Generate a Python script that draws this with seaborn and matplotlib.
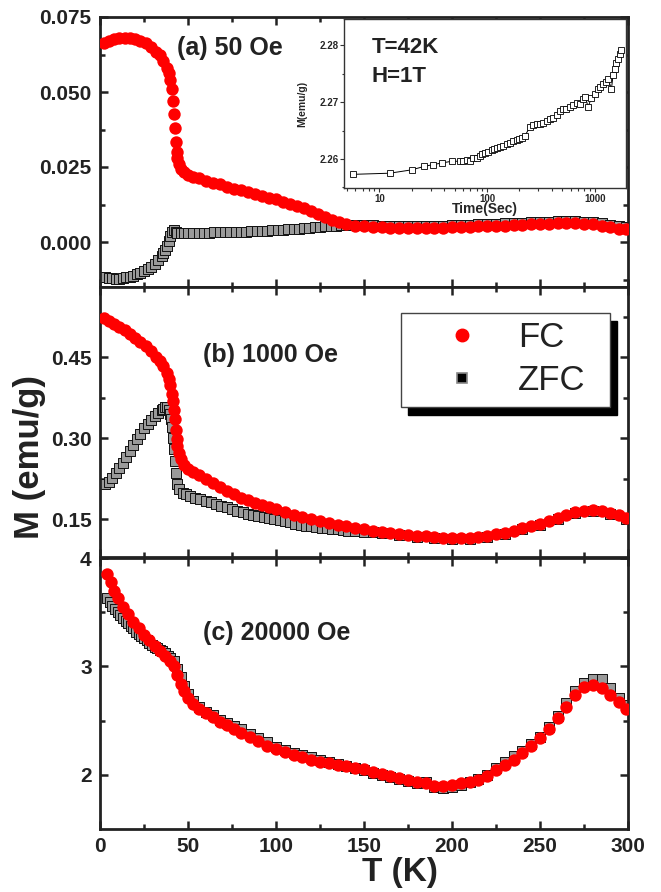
import matplotlib
matplotlib.use("Agg")
import matplotlib.pyplot as plt
import seaborn as sns
import pandas as pd
from matplotlib.patches import Rectangle
from matplotlib.lines import Line2D
from matplotlib.ticker import MultipleLocator, FixedLocator, FormatStrFormatter, LogLocator, NullFormatter

# ---------------- data ----------------
# panel (a) 50 Oe
T_fc_a = [2, 5, 8, 11, 14, 17, 20, 23, 26, 29, 32, 34, 36, 38, 39, 40, 41, 41.5, 42, 42.5, 43, 43.5, 44, 45, 46, 48, 50,
          53, 56, 60, 64, 68, 72, 76, 80, 84, 88, 92, 96, 100, 104, 108, 112, 116, 120, 124, 128, 132, 136, 140, 145,
          150, 155, 160, 165, 170, 175, 180, 185, 190, 195, 200, 205, 210, 215, 220, 225, 230, 235, 240, 245, 250, 255,
          260, 265, 270, 275, 280, 285, 290, 295, 299]
M_fc_a = [0.0665, 0.0670, 0.0676, 0.0680, 0.0681, 0.0680, 0.0677, 0.0671, 0.0662, 0.0650, 0.0635, 0.0622, 0.0604,
          0.0580, 0.0562, 0.0540, 0.0510, 0.0470, 0.0425, 0.0380, 0.0335, 0.0300, 0.0280, 0.0260, 0.0245, 0.0232,
          0.0225, 0.0218, 0.0212, 0.0205, 0.0198, 0.0192, 0.0185, 0.0178, 0.0172, 0.0166, 0.0160, 0.0154, 0.0148,
          0.0142, 0.0135, 0.0128, 0.0120, 0.0112, 0.0103, 0.0094, 0.0084, 0.0075, 0.0067, 0.0060, 0.0055, 0.0052,
          0.0050, 0.0049, 0.0048, 0.0048, 0.0048, 0.0047, 0.0047, 0.0048, 0.0048, 0.0049, 0.0050, 0.0051, 0.0052,
          0.0053, 0.0054, 0.0055, 0.0056, 0.0058, 0.0059, 0.0060, 0.0061, 0.0062, 0.0062, 0.0062, 0.0061, 0.0059,
          0.0055, 0.0050, 0.0045, 0.0042]
T_zfc_a = [3, 5, 7, 9, 11, 13, 15, 17, 19, 21,
           23, 25, 27, 29, 31, 33, 35, 36, 37, 38,
           39, 40, 41, 42, 43, 44, 46, 48, 50, 53,
           56, 59, 62, 65, 68, 71, 74, 77, 80, 83,
           86, 89, 92, 95, 98, 101, 104, 107, 110, 113,
           116, 119, 122, 125, 128, 131, 134, 137, 140, 145,
           150, 155, 160, 165, 170, 175, 180, 185, 190, 195,
           200, 205, 210, 215, 220, 225, 230, 235, 240, 245,
           250, 255, 260, 265, 270, 275, 280, 285, 290, 295,
           299]
M_zfc_a = [-0.0115, -0.0119, -0.0121, -0.0122, -0.0122, -0.0120, -0.0118, -0.0115, -0.0112, -0.0108,
           -0.0104, -0.0098, -0.0091, -0.0083, -0.0073, -0.0060, -0.0045, -0.0036, -0.0025, -0.0012,
           0.0003, 0.0020, 0.0033, 0.0040, 0.0035, 0.0031, 0.0030, 0.0030, 0.0030, 0.0030,
           0.0031, 0.0031, 0.0031, 0.0032, 0.0032, 0.0033, 0.0033, 0.0034, 0.0035, 0.0035,
           0.0036, 0.0037, 0.0037, 0.0038, 0.0039, 0.0040, 0.0041, 0.0042, 0.0044, 0.0045,
           0.0046, 0.0047, 0.0049, 0.0050, 0.0052, 0.0053, 0.0055, 0.0056, 0.0057, 0.0057,
           0.0057, 0.0056, 0.0055, 0.0055, 0.0055, 0.0055, 0.0054, 0.0054, 0.0055, 0.0055,
           0.0056, 0.0057, 0.0058, 0.0059, 0.0060, 0.0061, 0.0062, 0.0063, 0.0065, 0.0066,
           0.0067, 0.0068, 0.0069, 0.0069, 0.0069, 0.0068, 0.0066, 0.0062, 0.0057, 0.0052,
           0.0049]

# panel (b) 1000 Oe
T_fc_b = [2, 5, 8, 11, 14, 17, 20, 23, 26, 29, 32, 34, 36, 38, 39, 40, 41, 41.5, 42, 42.5, 43, 43.5, 44, 45, 46, 48, 50,
          53, 56, 60, 64, 68, 72, 76, 80, 84, 88, 92, 96, 100, 105, 110, 115, 120, 125, 130, 135, 140, 145, 150, 155,
          160, 165, 170, 175, 180, 185, 190, 195, 200, 205, 210, 215, 220, 225, 230, 235, 240, 245, 250, 255, 260, 265,
          270, 275, 280, 285, 290, 295, 299]
M_fc_b = [0.522, 0.517, 0.512, 0.506, 0.500, 0.493, 0.486, 0.478, 0.470, 0.461, 0.450, 0.443, 0.433, 0.420, 0.410,
          0.398, 0.382, 0.368, 0.352, 0.335, 0.315, 0.298, 0.285, 0.272, 0.262, 0.250, 0.243, 0.237, 0.231, 0.224,
          0.217, 0.210, 0.203, 0.196, 0.190, 0.185, 0.180, 0.176, 0.172, 0.168, 0.163, 0.158, 0.154, 0.150, 0.146,
          0.143, 0.140, 0.137, 0.134, 0.131, 0.129, 0.127, 0.125, 0.123, 0.121, 0.119, 0.118, 0.117, 0.116, 0.115,
          0.115, 0.116, 0.117, 0.119, 0.122, 0.125, 0.129, 0.133, 0.137, 0.142, 0.147, 0.152, 0.158, 0.163, 0.166,
          0.167, 0.166, 0.162, 0.157, 0.152]
T_zfc_b = [3, 5, 7, 9, 11, 13, 15, 17, 19, 21,
           23, 25, 27, 29, 31, 33, 35, 36, 37, 38,
           39, 40, 40.5, 41, 41.5, 42, 42.5, 43, 44, 45,
           47, 49, 51, 54, 57, 60, 63, 66, 69, 72,
           75, 78, 81, 84, 87, 90, 93, 96, 99, 102,
           105, 108, 111, 114, 117, 120, 123, 126, 129, 132,
           135, 138, 141, 145, 150, 155, 160, 170, 180, 190,
           200, 210, 220, 230, 240, 250, 260, 270, 280, 290,
           299]
M_zfc_b = [0.215, 0.219, 0.226, 0.235, 0.245, 0.255, 0.265, 0.276, 0.287, 0.298,
           0.308, 0.318, 0.326, 0.334, 0.341, 0.347, 0.353, 0.355, 0.357, 0.357,
           0.352, 0.345, 0.335, 0.320, 0.300, 0.280, 0.258, 0.235, 0.215, 0.206,
           0.199, 0.196, 0.193, 0.190, 0.187, 0.184, 0.181, 0.178, 0.175, 0.172,
           0.169, 0.166, 0.163, 0.160, 0.158, 0.156, 0.154, 0.152, 0.150, 0.148,
           0.146, 0.144, 0.142, 0.140, 0.138, 0.137, 0.135, 0.134, 0.133, 0.132,
           0.131, 0.130, 0.129, 0.128, 0.127, 0.126, 0.124, 0.121, 0.117, 0.115,
           0.113, 0.114, 0.117, 0.123, 0.131, 0.140, 0.150, 0.161, 0.165, 0.160,
           0.150]

# panel (c) 20000 Oe
T_fc_c = [4, 6, 8, 10, 13, 16, 19, 22, 25, 28, 31, 34, 37, 40, 42, 44, 46, 48, 50, 53, 56, 60, 64, 68, 72, 76, 80, 85,
          90, 95, 100, 105, 110, 115, 120, 125, 130, 135, 140, 145, 150, 155, 160, 165, 170, 175, 180, 185, 190, 195,
          200, 205, 210, 215, 220, 225, 230, 235, 240, 245, 250, 255, 260, 265, 270, 275, 280, 285, 290, 295, 299]
M_fc_c = [3.85, 3.78, 3.70, 3.63, 3.55, 3.48, 3.41, 3.35, 3.29, 3.24, 3.19, 3.14, 3.10, 3.05, 3.00, 2.92, 2.84, 2.77,
          2.71, 2.65, 2.61, 2.57, 2.53, 2.49, 2.46, 2.42, 2.39, 2.35, 2.31, 2.27, 2.24, 2.21, 2.18, 2.16, 2.14, 2.12,
          2.11, 2.09, 2.08, 2.06, 2.05, 2.03, 2.01, 1.99, 1.97, 1.95, 1.93, 1.92, 1.90, 1.90, 1.91, 1.92, 1.93, 1.95,
          1.99, 2.04, 2.09, 2.14, 2.20, 2.27, 2.34, 2.42, 2.52, 2.63, 2.74, 2.81, 2.83, 2.80, 2.74, 2.67, 2.61]
T_zfc_c = [4, 5.5, 7, 8.5, 10, 11.5, 13, 14.5, 16, 17.5, 19, 20.5, 22, 23.5, 25, 26.5, 28, 29.5, 31, 32.5, 34, 35.5,
           37, 38.5, 40, 42, 44, 46, 48, 50, 53, 56, 60, 64, 68, 72, 76, 80, 85, 90, 95, 100, 105, 110, 115, 120, 125,
           130, 135, 140, 145, 150, 155, 160, 165, 170, 175, 180, 185, 190, 195, 200, 205, 210, 215, 220, 225, 230,
           235, 240, 245, 250, 255, 260, 265, 270, 275, 280, 285, 290, 295, 299]
M_zfc_c = [3.63, 3.59, 3.56, 3.53, 3.50, 3.47, 3.45, 3.42, 3.40, 3.37, 3.35, 3.32, 3.30, 3.28, 3.26, 3.24, 3.22, 3.20,
           3.18, 3.17, 3.15, 3.14, 3.12, 3.10, 3.08, 3.05, 2.98, 2.90, 2.82, 2.75, 2.68, 2.63, 2.58, 2.55, 2.51, 2.48,
           2.45, 2.42, 2.38, 2.34, 2.30, 2.26, 2.23, 2.20, 2.18, 2.16, 2.14, 2.12, 2.10, 2.08, 2.06, 2.04, 2.02, 2.00,
           1.98, 1.96, 1.94, 1.92, 1.93, 1.89, 1.88, 1.89, 1.91, 1.93, 1.96, 2.00, 2.06, 2.12, 2.17, 2.22, 2.28, 2.35,
           2.44, 2.54, 2.66, 2.77, 2.85, 2.88, 2.88, 2.80, 2.71, 2.64]

# inset: relaxation at T=42K, H=1T
t_inset = [5.7, 12.5, 20.1, 26.1, 31.4, 38.1, 47, 56, 60.4, 64.9, 70, 74.7, 80, 86.1, 90, 95.7, 103, 110.6, 117, 123,
           132, 141.6, 152, 163.3, 175, 188.4, 200, 209.6, 224.9, 250, 268, 288.4, 310, 332, 357, 383, 410, 441.6,
           475, 508, 545, 587, 630, 677, 725, 780, 820, 867, 931, 1000, 1074, 1130, 1194, 1260, 1328, 1429, 1480,
           1531, 1590, 1644, 1700, 1742]
M_inset = [2.2573, 2.2575, 2.2581, 2.2587, 2.2590, 2.2593, 2.2596, 2.2596, 2.2596, 2.2598, 2.2597, 2.2601, 2.2602,
           2.2605, 2.2608, 2.2611, 2.2612, 2.2615, 2.2618, 2.2620, 2.2621, 2.2623, 2.2626, 2.2628, 2.2631, 2.2634,
           2.2635, 2.2637, 2.2641, 2.2656, 2.2659, 2.2661, 2.2662, 2.2664, 2.2666, 2.2670, 2.2672, 2.2678, 2.2684,
           2.2688, 2.2687, 2.2691, 2.2695, 2.2699, 2.2697, 2.2705, 2.2709, 2.2691, 2.2708, 2.2714, 2.2723, 2.2727,
           2.2732, 2.2735, 2.2741, 2.2723, 2.2748, 2.2759, 2.2768, 2.2776, 2.2784, 2.2791]

panel_labels = ["(a) 50 Oe", "(b) 1000 Oe", "(c) 20000 Oe"]
series_labels = ["FC", "ZFC"]

# ---------------- style ----------------
sns.set_theme(style="ticks")
plt.rcParams["font.family"] = ["Liberation Sans", "DejaVu Sans"]
plt.rcParams["font.weight"] = "bold"

SPINE = "#222222"
FC_COLOR = "#ff0000"
ZFC_FACE = "#9a9a9a"
ZFC_EDGE = "#111111"

fig = plt.figure(figsize=(6.61, 8.92), dpi=100)
L, W = 100 / 661, 528 / 661
axa = fig.add_axes([L, 1 - 287 / 892, W, 270 / 892])
axb = fig.add_axes([L, 1 - 557 / 892, W, 270 / 892])
axc = fig.add_axes([L, 1 - 829 / 892, W, 271 / 892])


def draw(ax, Tz, Mz, Tf, Mf):
    dz = pd.DataFrame({"T": Tz, "M": Mz})
    df = pd.DataFrame({"T": Tf, "M": Mf})
    sns.scatterplot(data=dz, x="T", y="M", ax=ax, marker="s", s=60, color=ZFC_FACE,
                    edgecolor=ZFC_EDGE, linewidth=0.7, legend=False, zorder=2)
    sns.scatterplot(data=df, x="T", y="M", ax=ax, marker="o", s=80, color=FC_COLOR,
                    edgecolor=FC_COLOR, linewidth=0, legend=False, zorder=3)


def style(ax, ylim, major, minor, fmt, show_x):
    ax.set_xlim(0, 300)
    ax.set_ylim(*ylim)
    ax.xaxis.set_major_locator(MultipleLocator(50))
    ax.xaxis.set_minor_locator(MultipleLocator(25))
    ax.yaxis.set_major_locator(FixedLocator(major))
    ax.yaxis.set_minor_locator(FixedLocator(minor))
    ax.yaxis.set_major_formatter(FormatStrFormatter(fmt))
    ax.tick_params(which="both", direction="in", top=True, right=True, width=1.8,
                   color=SPINE, labelsize=15, pad=6, labelcolor="#222222")
    ax.tick_params(which="major", length=6)
    ax.tick_params(which="minor", length=3.5)
    if not show_x:
        ax.tick_params(labelbottom=False)
    for sp in ax.spines.values():
        sp.set_linewidth(2)
        sp.set_color(SPINE)
    ax.set_xlabel("")
    ax.set_ylabel("")


draw(axa, T_zfc_a, M_zfc_a, T_fc_a, M_fc_a)
draw(axb, T_zfc_b, M_zfc_b, T_fc_b, M_fc_b)
draw(axc, T_zfc_c, M_zfc_c, T_fc_c, M_fc_c)

style(axa, (-0.015, 0.075), [0.0, 0.025, 0.05, 0.075], [-0.0125, 0.0125, 0.0375, 0.0625], "%.3f", False)
style(axb, (0.08, 0.58), [0.15, 0.30, 0.45], [0.225, 0.375, 0.525], "%.2f", False)
style(axc, (1.5, 4.0), [2, 3, 4], [2.5, 3.5], "%d", True)

axa.text(0.146, 0.885, panel_labels[0], transform=axa.transAxes, fontsize=18, va="center",
         fontweight="bold", color="#222222")
axb.text(0.195, 0.748, panel_labels[1], transform=axb.transAxes, fontsize=18, va="center",
         fontweight="bold", color="#222222")
axc.text(0.195, 0.723, panel_labels[2], transform=axc.transAxes, fontsize=18, va="center",
         fontweight="bold", color="#222222")

# legend with drop shadow
bx0, by0, bw, bh = 0.570, 0.556, 0.396, 0.348
axb.add_patch(Rectangle((bx0 + 7 / 528, by0 - 8 / 270), bw, bh, transform=axb.transAxes,
                        facecolor="black", edgecolor="black", zorder=5))
axb.add_patch(Rectangle((bx0, by0), bw, bh, transform=axb.transAxes,
                        facecolor="white", edgecolor="#444444", linewidth=1, zorder=6))
handles = [Line2D([], [], ls="", marker="o", color=FC_COLOR, markersize=9),
           Line2D([], [], ls="", marker="s", markerfacecolor="black", markeredgecolor="#888888",
                  markeredgewidth=1.2, markersize=7)]
leg = axb.legend(handles, series_labels, loc="upper left", bbox_to_anchor=(0.653, 0.875),
                 frameon=False, borderpad=0, borderaxespad=0, handlelength=1.0, handletextpad=1.1,
                 labelspacing=0.3, prop={"size": 25, "weight": "normal"})
leg.set_zorder(7)
for t in leg.get_texts():
    t.set_color("#222222")

fig.text(0.045, 0.4877, "M (emu/g)", rotation=90, fontsize=25, fontweight="bold",
         ha="center", va="center", color="#222222")
fig.text(0.605, 0.0215, "T (K)", fontsize=24, fontweight="bold", ha="center", va="center",
         color="#222222")

# ---------------- inset ----------------
ax_in = fig.add_axes([344 / 661, 1 - 188 / 892, 282 / 661, 169 / 892])
ax_in.set_facecolor("white")
ax_in.set_zorder(10)
sns.lineplot(x=t_inset, y=M_inset, ax=ax_in, color="black", lw=0.7, marker="s", markersize=4,
             markerfacecolor="white", markeredgecolor="black", markeredgewidth=0.6,
             estimator=None, sort=False)
ax_in.set_xscale("log")
ax_in.set_xlim(4.7, 1950)
ax_in.set_ylim(2.2549, 2.2846)
ax_in.set_yticks([2.26, 2.27, 2.28])
ax_in.yaxis.set_major_formatter(FormatStrFormatter("%.2f"))
ax_in.set_xticks([10, 100, 1000])
ax_in.set_xticklabels(["10", "100", "1000"])
ax_in.xaxis.set_minor_locator(LogLocator(base=10, subs=range(2, 10)))
ax_in.xaxis.set_minor_formatter(NullFormatter())
ax_in.yaxis.set_minor_locator(FixedLocator([2.255, 2.265, 2.275]))
ax_in.tick_params(which="both", direction="out", width=0.8, color="#333333", labelsize=7, pad=1)
ax_in.tick_params(which="major", length=3)
ax_in.tick_params(which="minor", length=1.8)
for sp in ax_in.spines.values():
    sp.set_linewidth(1)
    sp.set_color("#333333")
ax_in.set_xlabel("Time(Sec)", fontsize=10, fontweight="bold")
ax_in.xaxis.set_label_coords(0.5, -0.085)
ax_in.set_ylabel("M(emu/g)", fontsize=7.5, fontweight="bold")
ax_in.yaxis.set_label_coords(-0.13, 0.5)
ax_in.text(0.099, 0.834, "T=42K", transform=ax_in.transAxes, fontsize=16, fontweight="bold",
           va="center", color="#222222")
ax_in.text(0.099, 0.657, "H=1T", transform=ax_in.transAxes, fontsize=16, fontweight="bold",
           va="center", color="#222222")

fig.savefig("out.png", dpi=100)
